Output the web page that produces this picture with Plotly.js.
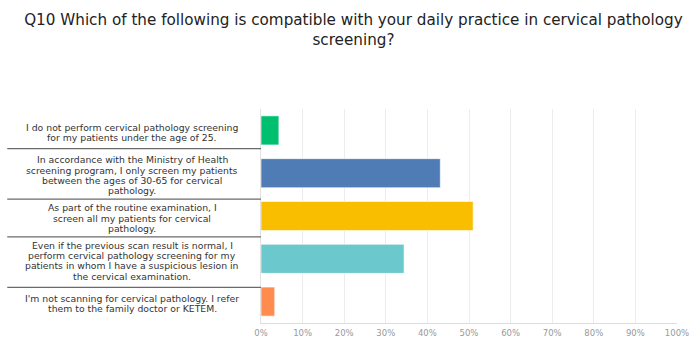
<!DOCTYPE html>
<html>
<head>
<meta charset="utf-8">
<script src="https://cdn.plot.ly/plotly-3.0.1.min.js"></script>
<style>html,body{margin:0;padding:0;background:#fff;}#chart{width:689px;height:339px;}</style>
</head>
<body>
<div id="chart"></div>
<script>
var categories = [
  "I do not perform cervical pathology screening<br>for my patients under the age of 25.",
  "In accordance with the Ministry of Health<br>screening program, I only screen my patients<br>between the ages of 30-65 for cervical<br>pathology.",
  "As part of the routine examination, I<br>screen all my patients for cervical<br>pathology.",
  "Even if the previous scan result is normal, I<br>perform cervical pathology screening for my<br>patients in whom I have a suspicious lesion in<br>the cervical examination.",
  "I'm not scanning for cervical pathology. I refer<br>them to the family doctor or KETEM."
];
var values = [0.043, 0.431, 0.510, 0.344, 0.033];
var barColors = ["#00bf6f", "#507cb6", "#f9be00", "#6bc8cd", "#ff8b4f"];
var tickVals = [0, 0.1, 0.2, 0.3, 0.4, 0.5, 0.6, 0.7, 0.8, 0.9, 1.0];
var tickText = ["0%", "10%", "20%", "30%", "40%", "50%", "60%", "70%", "80%", "90%", "100%"];
var titleText = "Q10 Which of the following is compatible with your daily practice in cervical pathology<br>screening?";

(function () {
  var ids = categories.map(function (c, i) { return i; });

  var trace = {
    type: "bar",
    orientation: "h",
    x: values,
    y: ids,
    marker: { color: barColors, line: { color: "rgba(255,255,255,0.6)", width: 1 } },
    hoverinfo: "x"
  };

  var FONT = "DejaVu Sans, Verdana, sans-serif";
  var W = 689, H = 339, MT = 109, MB = 16;
  var pxPerCat = (H - MT - MB) / categories.length;
  var lineStep = 10.2, blockShift = 2;

  var annotations = [];
  var nLines = [];
  categories.forEach(function (c, i) {
    var lines = c.split("<br>");
    var n = lines.length;
    nLines.push(n);
    lines.forEach(function (ln, j) {
      annotations.push({
        text: ln, xref: "paper", yref: "y", x: -0.31, y: i,
        xanchor: "center", yanchor: "middle", align: "center", showarrow: false,
        yshift: -((j - (n - 1) / 2) * lineStep) - blockShift,
        font: { family: FONT, size: 9.3, color: "#333" }
      });
    });
  });

  // separators midway between consecutive label blocks
  var shapes = [];
  for (var i = 0; i < categories.length - 1; i++) {
    var lowerEdge = blockShift + (nLines[i] - 1) / 2 * lineStep;
    var upperEdge = pxPerCat + blockShift - (nLines[i + 1] - 1) / 2 * lineStep;
    var mid = (lowerEdge + upperEdge) / 2 / pxPerCat;
    shapes.push({
      type: "line", xref: "paper", yref: "y", x0: -0.61, x1: 0, y0: i + mid, y1: i + mid,
      line: { color: "#6a6a6a", width: 1.3 }
    });
  }

  var layout = {
    width: W, height: H,
    margin: { l: 261, r: 12, t: MT, b: MB },
    paper_bgcolor: "#fff", plot_bgcolor: "#fff",
    title: {
      text: titleText, x: 0.513, xanchor: "center", y: 0.925, yanchor: "middle",
      font: { family: FONT, size: 15.2, color: "#222" }
    },
    showlegend: false,
    bargap: 0.32,
    xaxis: {
      range: [0, 1.0], tickvals: tickVals, ticktext: tickText,
      showgrid: true, gridcolor: "#ececec", gridwidth: 1,
      zeroline: false, showline: true, linecolor: "#ddd", linewidth: 1,
      ticks: "", ticklen: 0, ticklabelstandoff: 2, ticklabeloverflow: "allow",
      tickfont: { family: FONT, size: 8.5, color: "#999" },
      fixedrange: true
    },
    yaxis: {
      autorange: false, showticklabels: false, showgrid: false, zeroline: false,
      showline: true, linecolor: "#e2e2e2", linewidth: 1, ticks: "", fixedrange: true,
      range: [categories.length - 0.5, -0.5]
    },
    annotations: annotations,
    shapes: shapes
  };

  Plotly.newPlot("chart", [trace], layout, { displayModeBar: false, staticPlot: true });
})();
</script>
</body>
</html>
